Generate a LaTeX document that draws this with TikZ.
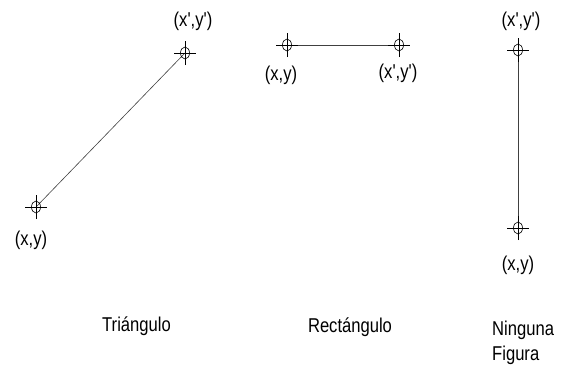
\documentclass[tikz,border=0pt]{standalone}
\usepackage{fontspec}
\usepackage{graphicx}
\setmainfont{Liberation Sans}
\newcommand{\nt}[1]{\scalebox{0.83}[1]{#1}}
\newcommand{\q}{\textquotesingle}
\begin{document}
\begin{tikzpicture}[x=1pt,y=-1pt,
  lbl/.style={inner sep=0pt,font=\fontsize{20}{22}\selectfont},
  conn/.style={draw=black!75,line width=0.6pt},
  mk/.style={draw=black,line width=0.6pt}]
\useasboundingbox (0,0) rectangle (569,365);
\newcommand{\pmark}[1]{%
  \draw[mk] (#1) ellipse [x radius=4.5,y radius=6];
  \draw[mk] ([xshift=-11pt]#1) -- ([xshift=11pt]#1);
  \draw[mk] ([yshift=-12pt]#1) -- ([yshift=12pt]#1);}
% Triangulo
\coordinate (t1) at (36,207);
\coordinate (t2) at (185,53);
\draw[conn] (t1) -- (t2);
\pmark{t1}\pmark{t2}
\node[lbl] (t1l) at (31,240) {\nt{(x,y)}};
\node[lbl] (t2l) at (193,21) {\nt{(x\q,y\q)}};
% Rectangulo
\coordinate (r1) at (287,45);
\coordinate (r2) at (399,45);
\draw[conn] (r1) -- (r2);
\pmark{r1}\pmark{r2}
\node[lbl] (r1l) at (281,75) {\nt{(x,y)}};
\node[lbl] (r2l) at (398,73) {\nt{(x\q,y\q)}};
% Ninguna
\coordinate (n1) at (518,50);
\coordinate (n2) at (518,228);
\draw[conn] (n1) -- (n2);
\pmark{n1}\pmark{n2}
\node[lbl] (n1l) at (521,21) {\nt{(x\q,y\q)}};
\node[lbl] (n2l) at (518,265) {\nt{(x,y)}};
% captions
\node[lbl,anchor=base] (c1) at (136.5,331) {\nt{Triángulo}};
\node[lbl,anchor=base] (c2) at (350,332) {\nt{Rectángulo}};
\node[lbl,anchor=base west] (c3) at (492,335) {\nt{Ninguna}};
\node[lbl,anchor=base west] (c4) at (492,360) {\nt{Figura}};
\end{tikzpicture}
\end{document}
